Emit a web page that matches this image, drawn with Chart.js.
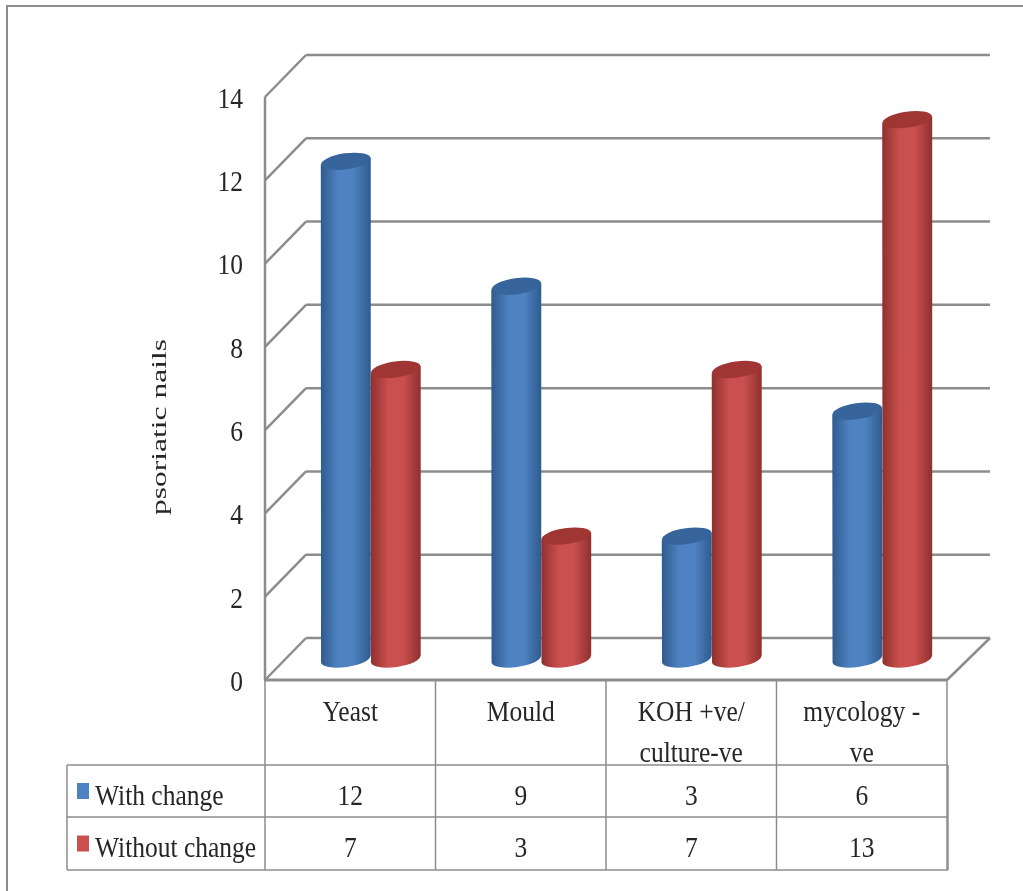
<!DOCTYPE html>
<html>
<head>
<meta charset="utf-8">
<title>psoriatic nails</title>
<script src="https://cdn.jsdelivr.net/npm/chart.js@4"></script>
<style>
    body { margin: 0; background: #fff; }
    canvas { display: block; }
</style>
</head>
<body>
<canvas id="myChart" width="1023" height="891"></canvas>
<script>
const categories = [['Yeast'], ['Mould'], ['KOH +ve/', 'culture-ve'], ['mycology -', 've']];
const withChange = [12, 9, 3, 6];
const withoutChange = [7, 3, 7, 13];
const yTicks = [0, 2, 4, 6, 8, 10, 12, 14];
const axisTitle = 'psoriatic nails';

const FONT = "'Liberation Serif', serif";
const TEXT = '#262626';
const LINE = '#8c8c8c';
const DEPTH_X = 41;
const DEPTH_Y = 42;
const ROW_LINES = [765, 817, 870];
const TABLE_LEFT = 67;

const seriesStyle = [
    { edge: '#2f5b8e', mid: '#4f82c2', top: '#36649b' },
    { edge: '#8f302e', mid: '#c9504e', top: '#a03634' }
];

function drawText(ctx, text, x, y, size, scaleX, angle) {
    ctx.save();
    ctx.translate(x, y);
    if (angle) ctx.rotate(angle);
    ctx.scale(scaleX, 1);
    ctx.font = size + 'px ' + FONT;
    ctx.fillStyle = TEXT;
    ctx.textBaseline = 'middle';
    ctx.fillText(text, 0, 0);
    ctx.restore();
}

function line(ctx, x1, y1, x2, y2, width) {
    ctx.beginPath();
    ctx.moveTo(x1, y1);
    ctx.lineTo(x2, y2);
    ctx.lineWidth = width;
    ctx.strokeStyle = LINE;
    ctx.stroke();
}

// walls and floor, behind the bars
const wallsPlugin = {
    id: 'walls',
    beforeDatasetsDraw(chart) {
        const ctx = chart.ctx;
        const area = chart.chartArea;
        const y = chart.scales.y;

        // outer frame of the picture
        line(ctx, 7, 6, 1023, 6, 2);
        line(ctx, 7, 5, 7, 891, 2);

        yTicks.forEach(function (t) {
            const py = y.getPixelForValue(t);
            line(ctx, area.left, py, area.left + DEPTH_X, py - DEPTH_Y, 2.5);
            line(ctx, area.left + DEPTH_X, py - DEPTH_Y, area.right + DEPTH_X + 2, py - DEPTH_Y, 2.5);
        });
        line(ctx, area.left, area.top, area.left, area.bottom, 2.5);
        line(ctx, area.right, area.bottom, area.right + DEPTH_X + 2, area.bottom - DEPTH_Y, 2.5);
        line(ctx, area.left - 1, area.bottom, area.right, area.bottom, 3);
    }
};

// every bar is drawn as a cylinder standing on the middle of the floor
const cylinderPlugin = {
    id: 'cylinders',
    afterDatasetsDraw(chart) {
        const ctx = chart.ctx;
        const tilt = -8 * Math.PI / 180;
        const ry = 8;

        categories.forEach(function (_, index) {
            chart.data.datasets.forEach(function (ds, di) {
                const el = chart.getDatasetMeta(di).data[index];
                const style = seriesStyle[di];
                const rx = el.width / 2;
                const cx = el.x + DEPTH_X / 2;
                const topY = el.y - DEPTH_Y / 2 + 2;
                const baseY = el.base - DEPTH_Y / 2;
                const shift = rx * Math.sin(-tilt);

                const grad = ctx.createLinearGradient(cx - rx, 0, cx + rx, 0);
                grad.addColorStop(0, style.edge);
                grad.addColorStop(0.35, style.mid);
                grad.addColorStop(0.65, style.mid);
                grad.addColorStop(1, style.edge);

                ctx.beginPath();
                ctx.moveTo(cx - rx, topY + shift);
                ctx.lineTo(cx + rx, topY - shift);
                ctx.lineTo(cx + rx, baseY - shift);
                ctx.ellipse(cx, baseY, rx, ry, tilt, 0, Math.PI);
                ctx.closePath();
                ctx.fillStyle = grad;
                ctx.fill();

                ctx.beginPath();
                ctx.ellipse(cx, topY, rx, ry, tilt, 0, Math.PI * 2);
                ctx.fillStyle = style.top;
                ctx.fill();
            });
        });
    }
};

// y labels, axis title and the data table under the chart
const tablePlugin = {
    id: 'dataTable',
    afterDraw(chart) {
        const ctx = chart.ctx;
        const area = chart.chartArea;
        const x = chart.scales.x;
        const y = chart.scales.y;
        const step = (area.right - area.left) / categories.length;
        const scaleX = 0.85;

        ctx.textAlign = 'right';
        yTicks.forEach(function (t) {
            drawText(ctx, String(t), 243, y.getPixelForValue(t) + 3, 30, scaleX);
        });

        ctx.textAlign = 'center';
        drawText(ctx, axisTitle, 160, 427, 21, 1.5, -Math.PI / 2);

        // table lines
        ROW_LINES.forEach(function (py) {
            line(ctx, TABLE_LEFT, py, area.right + 1, py, 1.5);
        });
        line(ctx, TABLE_LEFT, ROW_LINES[0], TABLE_LEFT, ROW_LINES[2], 1.5);
        line(ctx, area.right + 1, ROW_LINES[0], area.right + 1, ROW_LINES[2], 1.5);
        for (let i = 0; i <= categories.length; i++) {
            const px = area.left + step * i;
            line(ctx, px, area.bottom, px, ROW_LINES[2], 1.5);
        }

        // category labels
        categories.forEach(function (label, i) {
            const px = x.getPixelForValue(i);
            label.forEach(function (part, n) {
                drawText(ctx, part, px, 713 + n * 41, 30, scaleX);
            });
        });

        // series rows
        chart.data.datasets.forEach(function (ds, di) {
            const rowY = (ROW_LINES[di] + ROW_LINES[di + 1]) / 2 + 6;
            ctx.fillStyle = seriesStyle[di].mid;
            ctx.fillRect(77, rowY - 14, 12, 16);
            ctx.textAlign = 'left';
            drawText(ctx, ds.label, 95, rowY, 30, scaleX);
            ctx.textAlign = 'center';
            ds.data.forEach(function (v, i) {
                drawText(ctx, String(v), x.getPixelForValue(i), rowY, 30, scaleX);
            });
        });
    }
};

new Chart(document.getElementById('myChart'), {
    type: 'bar',
    data: {
        labels: categories,
        datasets: [
            { label: 'With change', data: withChange, backgroundColor: 'transparent' },
            { label: 'Without change', data: withoutChange, backgroundColor: 'transparent' }
        ]
    },
    options: {
        responsive: false,
        animation: false,
        layout: { padding: { left: 265, right: 76, top: 97, bottom: 211 } },
        datasets: { bar: { categoryPercentage: 0.586, barPercentage: 1 } },
        plugins: { legend: { display: false }, tooltip: { enabled: false } },
        scales: {
            x: {
                grid: { display: false, drawTicks: false },
                border: { display: false },
                ticks: { display: false }
            },
            y: {
                min: 0,
                max: 14,
                grid: { display: false, drawTicks: false },
                border: { display: false },
                ticks: { display: false, stepSize: 2 }
            }
        }
    },
    plugins: [wallsPlugin, cylinderPlugin, tablePlugin]
});
</script>
</body>
</html>
